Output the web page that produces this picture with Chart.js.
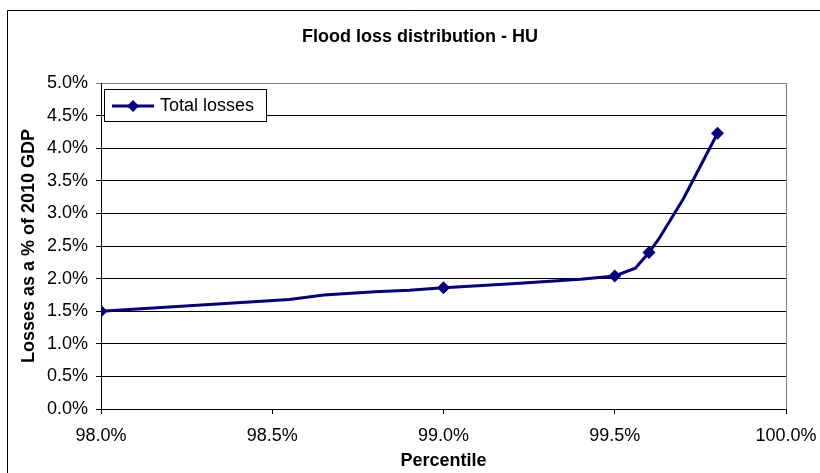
<!DOCTYPE html>
<html>
<head>
<meta charset="utf-8">
<script src="https://cdn.jsdelivr.net/npm/chart.js@4"></script>
<style>
  html, body { margin: 0; padding: 0; background: #fff; overflow: hidden; }
</style>
</head>
<body>
<canvas id="lossChart" width="820" height="473"></canvas>
<script>
// values (percent units)
const percentiles = [98.0, 98.55, 98.65, 98.8, 98.9, 99.0, 99.2, 99.4, 99.5, 99.56, 99.6, 99.63, 99.7, 99.8];
const losses      = [1.50, 1.68, 1.75, 1.80, 1.82, 1.86, 1.92, 1.99, 2.04, 2.16, 2.40, 2.62, 3.22, 4.23];
const markedPercentiles = [98.0, 99.0, 99.5, 99.6, 99.8];
const xTicks = [98.0, 98.5, 99.0, 99.5, 100.0];
const yTicks = [0.0, 0.5, 1.0, 1.5, 2.0, 2.5, 3.0, 3.5, 4.0, 4.5, 5.0];

const NAVY = '#000080';
const FONT = '"Liberation Sans", Arial, sans-serif';

// frame, title, plot border and the Excel-like legend box
const excelLook = {
    id: 'excelLook',
    beforeDraw(chart) {
        const ctx = chart.ctx;
        ctx.save();
        ctx.fillStyle = '#fff';
        ctx.fillRect(0, 0, chart.width, chart.height);
        ctx.strokeStyle = '#000';
        ctx.lineWidth = 1;
        ctx.beginPath();
        ctx.moveTo(7.5, chart.height);
        ctx.lineTo(7.5, 10.5);
        ctx.lineTo(chart.width, 10.5);
        ctx.stroke();
        ctx.restore();
    },
    afterDatasetsDraw(chart) {
        const ctx = chart.ctx;
        const area = chart.chartArea;
        ctx.save();
        // right plot border (grey)
        ctx.strokeStyle = '#808080';
        ctx.lineWidth = 1;
        ctx.beginPath();
        ctx.moveTo(Math.round(area.right) + 0.5, area.top);
        ctx.lineTo(Math.round(area.right) + 0.5, area.bottom);
        ctx.stroke();

        // title
        ctx.fillStyle = '#000';
        ctx.font = 'bold 18px ' + FONT;
        ctx.textAlign = 'center';
        ctx.textBaseline = 'middle';
        ctx.fillText('Flood loss distribution - HU', 420, 37);

        // legend
        ctx.fillStyle = '#fff';
        ctx.fillRect(104.5, 89.5, 162, 32);
        ctx.strokeStyle = '#000';
        ctx.strokeRect(104.5, 89.5, 162, 32);
        ctx.strokeStyle = NAVY;
        ctx.lineWidth = 3;
        ctx.beginPath();
        ctx.moveTo(112, 106);
        ctx.lineTo(154, 106);
        ctx.stroke();
        ctx.fillStyle = NAVY;
        ctx.beginPath();
        ctx.moveTo(133, 100);
        ctx.lineTo(139, 106);
        ctx.lineTo(133, 112);
        ctx.lineTo(127, 106);
        ctx.closePath();
        ctx.fill();
        ctx.fillStyle = '#000';
        ctx.font = '18px ' + FONT;
        ctx.textAlign = 'left';
        ctx.fillText('Total losses', 160, 106);
        ctx.restore();
    }
};

const ctx = document.getElementById('lossChart').getContext('2d');
new Chart(ctx, {
    type: 'line',
    data: {
        datasets: [{
            label: 'Total losses',
            data: percentiles.map((p, i) => ({ x: p, y: losses[i] })),
            borderColor: NAVY,
            backgroundColor: NAVY,
            borderWidth: 3,
            tension: 0,
            fill: false,
            pointStyle: 'rectRot',
            pointRadius: c => markedPercentiles.includes(percentiles[c.dataIndex]) ? 6.5 : 0,
            pointHoverRadius: 0,
            pointBorderWidth: 0
        }]
    },
    options: {
        responsive: false,
        animation: false,
        events: [],
        layout: { padding: { top: 83, right: 34, left: 0, bottom: 0 } },
        plugins: { legend: { display: false }, title: { display: false }, tooltip: { enabled: false } },
        scales: {
            x: {
                type: 'linear',
                min: 98, max: 100,
                afterBuildTicks: s => { s.ticks = xTicks.map(v => ({ value: v })); },
                afterFit: s => { s.height = 64; s.paddingLeft = 0; s.paddingRight = 0; },
                ticks: {
                    color: '#000',
                    font: { family: FONT, size: 18 },
                    padding: 11,
                    maxRotation: 0,
                    callback: v => v.toFixed(1) + '%'
                },
                grid: { drawOnChartArea: false, drawTicks: true, tickLength: 5, color: '#000' },
                border: { color: '#000', width: 1 },
                title: {
                    display: true,
                    text: 'Percentile',
                    color: '#000',
                    font: { family: FONT, size: 18, weight: 'bold' },
                    padding: { top: 0, bottom: 1 }
                }
            },
            y: {
                type: 'linear',
                min: 0, max: 5,
                afterBuildTicks: s => { s.ticks = yTicks.map(v => ({ value: v })); },
                afterFit: s => { s.width = 101; s.paddingTop = 0; s.paddingBottom = 0; },
                ticks: {
                    color: '#000',
                    font: { family: FONT, size: 18 },
                    padding: 8,
                    callback: v => v.toFixed(1) + '%'
                },
                grid: {
                    drawTicks: true,
                    tickLength: 5,
                    color: c => c.tick && c.tick.value === 5 ? '#808080' : '#000'
                },
                border: { color: '#000', width: 1 },
                title: {
                    display: true,
                    text: 'Losses as a % of 2010 GDP',
                    color: '#000',
                    font: { family: FONT, size: 18, weight: 'bold' },
                    padding: { top: 18, bottom: 0 }
                }
            }
        }
    },
    plugins: [excelLook]
});
</script>
</body>
</html>
